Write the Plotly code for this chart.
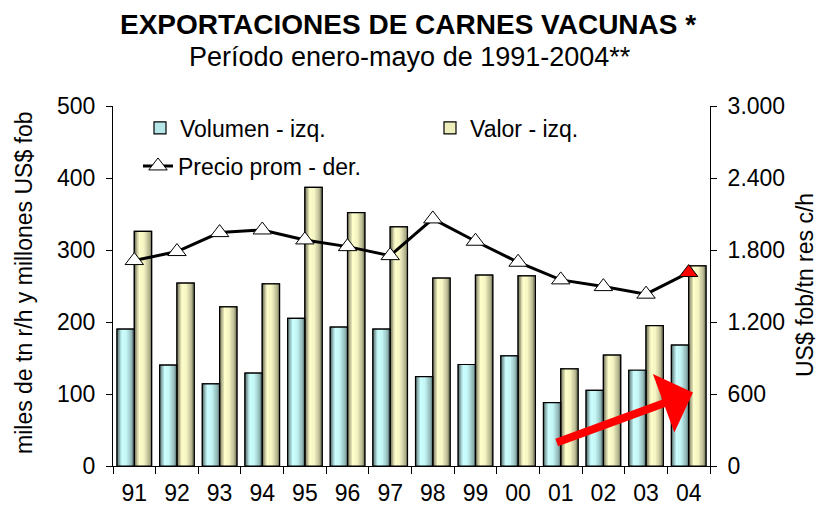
import plotly.graph_objects as go

years = ["91", "92", "93", "94", "95", "96", "97", "98", "99", "00", "01", "02", "03", "04"]
volumen = [190, 140, 114, 129, 205, 193, 190, 124, 141, 153, 88, 105, 133, 168]
valor = [326, 254, 221, 253, 387, 352, 332, 261, 265, 264, 135, 154, 195, 278]
precio = [1712, 1787, 1945, 1967, 1884, 1828, 1753, 2059, 1873, 1698, 1551, 1495, 1432, 1612]

left_ticks = [0, 100, 200, 300, 400, 500]
right_ticks = [0, 600, 1200, 1800, 2400, 3000]
right_labels = ["0", "600", "1.200", "1.800", "2.400", "3.000"]

FONT = "Liberation Sans, Arial, sans-serif"
BAR_W = 0.405
N_STRIPS = 12

def shade(peak, t):
    pts = [(0.0, 0.42), (0.28, 1.0), (0.55, 0.96), (0.85, 0.72), (1.0, 0.5)]
    for (t0, f0), (t1, f1) in zip(pts, pts[1:]):
        if t0 <= t <= t1:
            f = f0 + (f1 - f0) * (t - t0) / (t1 - t0)
            break
    return "rgb(%d,%d,%d)" % tuple(int(c * f) for c in peak)

fig = go.Figure()

series = [
    ("Volumen - izq.", volumen, -BAR_W, (204, 255, 255), "#b6e6e8", "legend"),
    ("Valor - izq.", valor, 0.0, (255, 255, 204), "#eeeebc", "legend3"),
]

for name, vals, off, peak, mid, lg in series:
    fig.add_trace(go.Bar(
        x=years, y=vals, name=name, offset=off, width=BAR_W,
        marker=dict(color=mid, line=dict(color="black", width=1.2)),
        legend=lg,
    ))

for name, vals, off, peak, mid, lg in series:
    sw = BAR_W / N_STRIPS
    for k in range(N_STRIPS):
        t = (k + 0.5) / N_STRIPS
        fig.add_trace(go.Bar(
            x=years, y=vals, offset=off + k * sw,
            width=sw * (1.6 if k < N_STRIPS - 1 else 1.0),
            marker=dict(color=shade(peak, t), line=dict(width=0)),
            showlegend=False, hoverinfo="skip",
        ))

for name, vals, off, peak, mid, lg in series:
    fig.add_trace(go.Bar(
        x=years, y=vals, offset=off, width=BAR_W,
        marker=dict(color="rgba(0,0,0,0)", line=dict(color="black", width=1.2)),
        showlegend=False, hoverinfo="skip",
    ))

marker_colors = ["white"] * (len(precio) - 1) + ["red"]
fig.add_trace(go.Scatter(
    x=years, y=precio, name="Precio prom - der.", yaxis="y2",
    mode="lines+markers",
    line=dict(color="black", width=3),
    marker=dict(symbol="triangle-up", size=16, color=marker_colors,
                line=dict(color="black", width=1)),
    legend="legend2",
))

L, R, T, B = 113, 110, 106, 46
plot_h = 512 - T - B
plot_w = 820 - L - R

def px_x(x):
    return (x - L) / plot_w

def px_y(y):
    return (512 - B - y) / plot_h

legend_common = dict(orientation="h", xanchor="left", yanchor="middle",
                     font=dict(size=23), bgcolor="rgba(0,0,0,0)", itemwidth=30)

fig.update_layout(
    width=820, height=512,
    margin=dict(l=L, r=R, t=T, b=B, autoexpand=False),
    paper_bgcolor="white", plot_bgcolor="white",
    font=dict(family=FONT, size=22, color="black"),
    barmode="overlay",
    showlegend=True,
    xaxis=dict(
        type="category", range=[-0.5, 13.5], automargin=False,
        showline=True, linecolor="black", linewidth=1,
        ticks="outside", tickson="boundaries", ticklen=7, tickcolor="black",
        showgrid=False, tickfont=dict(size=23), ticklabelstandoff=6,
    ),
    yaxis=dict(
        range=[0, 500], tickvals=left_ticks, automargin=False,
        showline=True, linecolor="black", linewidth=1,
        ticks="outside", ticklen=6, tickcolor="black",
        showgrid=False, zeroline=False, tickfont=dict(size=23), ticklabelstandoff=6,
    ),
    yaxis2=dict(
        range=[0, 3000], overlaying="y", side="right", automargin=False,
        tickvals=right_ticks, ticktext=right_labels,
        showline=True, linecolor="black", linewidth=1,
        ticks="outside", ticklen=6, tickcolor="black",
        showgrid=False, zeroline=False, tickfont=dict(size=23), ticklabelstandoff=6,
    ),
    legend=dict(x=px_x(140), y=px_y(128), **legend_common),
    legend3=dict(x=px_x(430), y=px_y(128), **legend_common),
    legend2=dict(x=px_x(138), y=px_y(166), **legend_common),
    annotations=[
        dict(text="<b>EXPORTACIONES DE CARNES VACUNAS *</b>", xref="paper", yref="paper",
             x=px_x(408), y=px_y(25), xanchor="center", yanchor="middle", showarrow=False,
             font=dict(size=28)),
        dict(text="Período enero-mayo de 1991-2004**", xref="paper", yref="paper",
             x=px_x(410), y=px_y(57), xanchor="center", yanchor="middle", showarrow=False,
             font=dict(size=27)),
        dict(text="miles de tn r/h y millones US$ fob", xref="paper", yref="paper",
             x=px_x(24), y=px_y(283), xanchor="center", yanchor="middle", showarrow=False,
             textangle=-90, font=dict(size=23)),
        dict(text="US$ fob/tn res c/h", xref="paper", yref="paper",
             x=px_x(805), y=px_y(285), xanchor="center", yanchor="middle", showarrow=False,
             textangle=-90, font=dict(size=23)),
        dict(text="", x=13.1, y=102, ax=9.87, ay=32, xref="x", yref="y",
             axref="x", ayref="y", showarrow=True, arrowhead=1,
             arrowwidth=8, arrowsize=1.3, arrowcolor="red"),
    ],
)

fig.write_html("out.html", config={"displayModeBar": False},
               post_script="document.body.style.margin='0px';")
